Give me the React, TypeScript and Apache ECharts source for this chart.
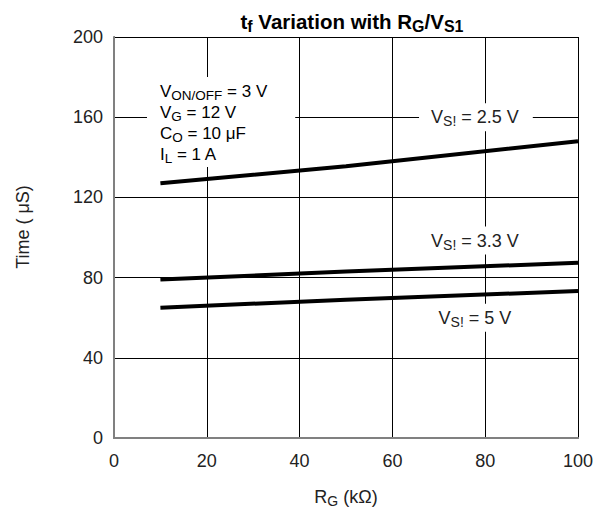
import React, { useEffect, useRef } from "react";
import * as echarts from "echarts";

const xTicks = [0, 20, 40, 60, 80, 100];
const yTicks = [0, 40, 80, 120, 160, 200];
const rg = [10, 50, 100];
const vs25 = [127, 135.5, 148];
const vs33 = [79, 83, 87.4];
const vs5 = [65, 69, 73.3];
const seriesNames = ["2.5", "3.3", "5"];
const labelCoords: [number, number][] = [
  [78, 160],
  [78, 98.5],
  [78, 60],
];
const conditions = [
  ["V", "ON/OFF", " = 3 V"],
  ["V", "G", " = 12 V"],
  ["C", "O", " = 10 \u03bcF"],
  ["I", "L", " = 1 A"],
];

const FONT = "Arial, 'Liberation Sans', Helvetica, sans-serif";
const TXT = "#222";

const richAnn = {
  m: { fontSize: 17, lineHeight: 21, verticalAlign: "middle", color: TXT, fontFamily: FONT },
  s: { fontSize: 13.5, lineHeight: 13, verticalAlign: "bottom", color: TXT, fontFamily: FONT },
};
const richLbl = {
  m: { fontSize: 18, lineHeight: 22, verticalAlign: "middle", color: TXT, fontFamily: FONT },
  s: { fontSize: 14, lineHeight: 13, verticalAlign: "bottom", color: TXT, fontFamily: FONT },
};

export default function App() {
  const ref = useRef<HTMLDivElement>(null);
  useEffect(() => {
    if (!ref.current) return;
    const chart = echarts.init(ref.current, null, { renderer: "svg" });
    const toPairs = (ys: number[]) => rg.map((x, i) => [x, ys[i]]);
    const allSeries = [vs25, vs33, vs5];
    chart.setOption({
      animation: false,
      backgroundColor: "#fff",
      textStyle: { fontFamily: FONT },
      title: {
        text: "{b|t}{bs|f}{b| Variation with R}{bs|G}{b|/V}{bs|S1}",
        left: 347,
        textAlign: "center",
        top: 4,
        textStyle: {
          rich: {
            b: { fontSize: 20.5, fontWeight: "bold", lineHeight: 25, verticalAlign: "middle", color: "#000", fontFamily: FONT },
            bs: { fontSize: 16, fontWeight: "bold", lineHeight: 15, verticalAlign: "bottom", color: "#000", fontFamily: FONT },
          },
        },
      },
      grid: { left: 114, right: 31, top: 37, bottom: 73 },
      xAxis: [
        {
          type: "value",
          min: 0,
          max: 100,
          interval: 20,
          position: "bottom",
          axisLine: { show: true, lineStyle: { color: "#808080", width: 2 } },
          axisTick: { show: false },
          axisLabel: {
            margin: 14,
            fontSize: 18,
            color: TXT,
            fontFamily: FONT,
            formatter: (v: number) => (xTicks.includes(v) ? String(v) : ""),
          },
          splitLine: { show: true, lineStyle: { color: "#000", width: 1 } },
          name: "{m|R}{s|G}{m| (k\u03a9)}",
          nameLocation: "middle",
          nameGap: 48,
          nameTextStyle: { rich: richLbl },
        },
        {
          type: "value",
          min: 0,
          max: 100,
          interval: 20,
          position: "top",
          axisLine: { show: true, lineStyle: { color: "#808080", width: 2 } },
          axisTick: { show: false },
          axisLabel: { show: false },
          splitLine: { show: false },
        },
      ],
      yAxis: [
        {
          type: "value",
          min: 0,
          max: 200,
          interval: 40,
          position: "left",
          axisLine: { show: true, lineStyle: { color: "#000", width: 1 } },
          axisTick: { show: false },
          axisLabel: {
            margin: 11,
            fontSize: 18,
            color: TXT,
            fontFamily: FONT,
            formatter: (v: number) => (yTicks.includes(v) ? String(v) : ""),
          },
          splitLine: { show: true, lineStyle: { color: "#000", width: 1 } },
        },
        {
          type: "value",
          min: 0,
          max: 200,
          interval: 40,
          position: "right",
          axisLine: { show: true, lineStyle: { color: "#808080", width: 2 } },
          axisTick: { show: false },
          axisLabel: { show: false },
          splitLine: { show: false },
        },
      ],
      graphic: [
        {
          type: "text",
          x: 23,
          y: 227,
          rotation: Math.PI / 2,
          style: {
            text: "Time ( \u03bcS)",
            fontSize: 18,
            fill: TXT,
            fontFamily: FONT,
            align: "center",
            verticalAlign: "middle",
          },
        },
        {
          type: "text",
          left: 147,
          top: 77,
          z: 1,
          style: {
            text: conditions.map((c) => `{m|${c[0]}}{s|${c[1]}}{m|${c[2]}}`).join("\n"),
            rich: richAnn,
            backgroundColor: "#fff",
            padding: [4, 28, 2, 13],
          },
        },
      ],
      series: allSeries.map((ys, i) => ({
        type: "line",
        name: seriesNames[i],
        data: toPairs(ys),
        showSymbol: false,
        symbol: "none",
        lineStyle: { color: "#000", width: 4 },
        z: 3,
        markPoint: {
          symbol: "circle",
          symbolSize: 1,
          itemStyle: { color: "rgba(0,0,0,0)" },
          data: [
            {
              coord: labelCoords[i],
              label: {
                show: true,
                position: "inside",
                formatter: `{m|V}{s|S!}{m| = ${seriesNames[i]} V}`,
                rich: richLbl,
                backgroundColor: "#fff",
                padding: [3, 14, 3, 12],
              },
            },
          ],
        },
      })),
    });
    return () => chart.dispose();
  }, []);
  return <div ref={ref} style={{ width: 609, height: 513, position: "absolute", left: 0, top: 0 }} />;
}
